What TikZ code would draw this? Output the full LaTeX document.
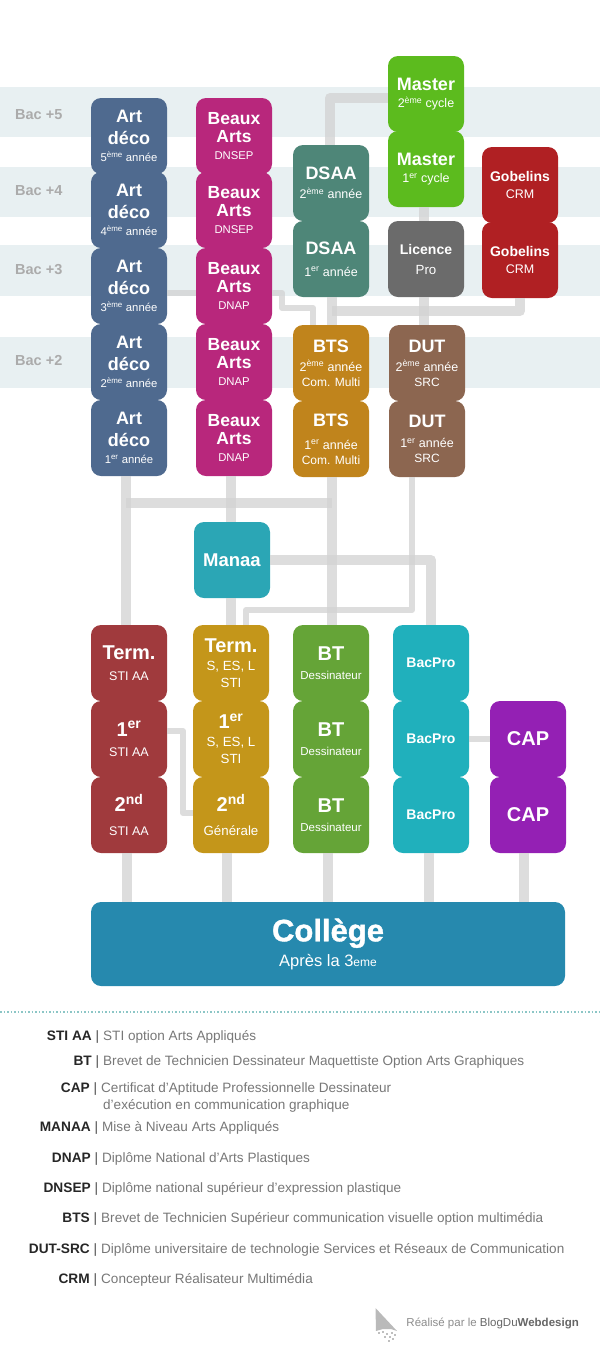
\documentclass[tikz,border=0pt]{standalone}
\usepackage{fontspec}
\setmainfont{Liberation Sans}
\newfontfamily\lourd{Liberation Sans}[UprightFont=* Bold,FakeBold=1.2]
\usepackage{xcolor}
\usetikzlibrary{calc,positioning}
\definecolor{band}{HTML}{E8F0F2}
\definecolor{linkgray}{HTML}{D2D2D2}
\definecolor{bacgray}{HTML}{ABABAB}
\definecolor{legendgray}{HTML}{777777}
\definecolor{dotteal}{HTML}{8CC6C6}
\definecolor{decoblue}{HTML}{4F6A8F}
\definecolor{artsmag}{HTML}{B8277C}
\definecolor{dsaateal}{HTML}{4E8678}
\definecolor{mastergreen}{HTML}{5CBB1E}
\definecolor{gobred}{HTML}{B02023}
\definecolor{licgray}{HTML}{6B6B6B}
\definecolor{btsgold}{HTML}{C0841C}
\definecolor{dutbrown}{HTML}{8C6650}
\definecolor{manaateal}{HTML}{2BA6B5}
\definecolor{stired}{HTML}{A03A3D}
\definecolor{termgold}{HTML}{C4961A}
\definecolor{btgreen}{HTML}{65A437}
\definecolor{procyan}{HTML}{20B0BC}
\definecolor{cappurple}{HTML}{9420B4}
\definecolor{collblue}{HTML}{2689AE}
\tikzset{
  etape/.style={minimum width=76pt,minimum height=76pt,inner sep=0pt,rounded corners=10pt,text=white,align=center,font=\fontsize{12.5}{14}\selectfont},
  biglink/.style={draw=linkgray,line width=10pt,opacity=.75,line join=round},
  thinlink/.style={draw=linkgray,line width=6pt,opacity=.75,line join=round},
  baclabel/.style={anchor=west,inner sep=0pt,text=bacgray,font=\fontsize{14.5}{15}\selectfont\bfseries},
  legkey/.style={anchor=base east,inner sep=0pt,text=black!85,font=\fontsize{13.7}{16}\selectfont\bfseries},
  legdesc/.style={anchor=base west,inner sep=0pt,text=legendgray,font=\fontsize{13.55}{16}\selectfont},
}
\newcommand{\gros}[1]{{\fontsize{18}{20}\selectfont\bfseries #1}}
\newcommand{\tgros}[1]{{\fontsize{20}{20}\selectfont\bfseries #1}}
\newcommand{\moyen}[1]{{\fontsize{17.5}{18}\selectfont\bfseries #1}}
\newcommand{\petit}[1]{{\fontsize{14}{15}\selectfont\bfseries #1}}
\newcommand{\mince}[1]{{\fontsize{11.3}{14}\selectfont #1}}
\newcommand{\fin}[1]{{\fontsize{13.3}{14}\selectfont #1}}
\begin{document}
\begin{tikzpicture}[x=1pt,y=-1pt]
  \useasboundingbox (0,0) rectangle (600,1350);
  % bands
  \foreach \y/\h in {87/137,167/217,245/296,337/388}{\fill[band] (0,\y) rectangle (600,\h);}
  \node[baclabel] (bac5) at (15,114.5) {Bac +5};
  \node[baclabel] (bac4) at (15,190.5) {Bac +4};
  \node[baclabel] (bac3) at (15,269.5) {Bac +3};
  \node[baclabel] (bac2) at (15,360.5) {Bac +2};

  % art deco
  \foreach \n/\y/\t in {5/136/5\textsuperscript{ème},4/210/4\textsuperscript{ème},3/286/3\textsuperscript{ème},2/362/2\textsuperscript{ème},1/438/1\textsuperscript{er}}{
    \node[etape,fill=decoblue] (deco\n) at (129,\y) {\gros{Art}\\[8pt]\gros{déco}\\[3pt]\mince{\t\ année}};
  }
  % beaux arts
  \foreach \n/\y/\t in {5/136/DNSEP,4/210/DNSEP,3/286/DNAP,2/362/DNAP,1/438/DNAP}{
    \node[etape,fill=artsmag] (arts\n) at (234,\y) {\moyen{Beaux}\\[4pt]\moyen{Arts}\\[3pt]\mince{\t}};
  }
  \node[etape,fill=dsaateal] (dsaa2) at (331,183) {\gros{DSAA}\\[5pt]2\textsuperscript{ème} année};
  \node[etape,fill=dsaateal] (dsaa1) at (331,259) {\gros{DSAA}\\[8pt]1\textsuperscript{er} année};
  \node[etape,fill=mastergreen] (master2) at (426,94) {\gros{Master}\\[3pt]2\textsuperscript{ème} cycle};
  \node[etape,fill=mastergreen] (master1) at (426,169) {\gros{Master}\\[3pt]1\textsuperscript{er} cycle};
  \node[etape,fill=licgray] (licence) at (426,259) {\petit{Licence}\\[6pt]\fin{Pro}};
  \node[etape,fill=gobred] (gob2) at (520,185) {\petit{Gobelins}\\[3pt]CRM};
  \node[etape,fill=gobred] (gob1) at (520,260) {\petit{Gobelins}\\[3pt]CRM};
  \node[etape,fill=btsgold] (bts2) at (331,363) {\gros{BTS}\\[5pt]2\textsuperscript{ème} année\\[1pt]{\fontsize{12}{14}\selectfont Com. Multi}};
  \node[etape,fill=btsgold] (bts1) at (331,439) {\gros{BTS}\\[9pt]1\textsuperscript{er} année\\[1pt]{\fontsize{12}{14}\selectfont Com. Multi}};
  \node[etape,fill=dutbrown] (dut2) at (427,363) {\gros{DUT}\\[5pt]2\textsuperscript{ème} année\\[1pt]{\fontsize{12}{14}\selectfont SRC}};
  \node[etape,fill=dutbrown] (dut1) at (427,439) {\gros{DUT}\\[6pt]1\textsuperscript{er} année\\[1pt]{\fontsize{12}{14}\selectfont SRC}};
  \node[etape,fill=manaateal] (manaa) at (232,560) {{\fontsize{18.5}{20}\selectfont\bfseries Manaa}};

  % lycee
  \node[etape,fill=stired] (sti3) at (129,663) {\tgros{Term.}\\[7pt]STI AA};
  \node[etape,fill=stired] (sti2) at (129,739) {\tgros{1\textsuperscript{er}}\\[6pt]STI AA};
  \node[etape,fill=stired] (sti1) at (129,815) {\tgros{2\textsuperscript{nd}}\\[10pt]STI AA};
  \node[etape,fill=termgold] (gen3) at (231,663) {\tgros{Term.}\\[4pt]\fin{S, ES, L}\\[3pt]\fin{STI}};
  \node[etape,fill=termgold] (gen2) at (231,739) {\tgros{1\textsuperscript{er}}\\[4pt]\fin{S, ES, L}\\[3pt]\fin{STI}};
  \node[etape,fill=termgold] (gen1) at (231,815) {\tgros{2\textsuperscript{nd}}\\[10pt]\fin{Générale}};
  \foreach \n/\y in {3/663,2/739,1/815}{
    \node[etape,fill=btgreen] (bt\n) at (331,\y) {\tgros{BT}\\[5pt]{\fontsize{11.5}{13}\selectfont Dessinateur}};
    \node[etape,fill=procyan] (pro\n) at (431,\y) {\petit{BacPro}};
  }
  \node[etape,fill=cappurple] (cap2) at (528,739) {\tgros{CAP}};
  \node[etape,fill=cappurple] (cap1) at (528,815) {\tgros{CAP}};
  \node[etape,fill=collblue,minimum width=474pt,minimum height=84pt] (college) at (328,944)
    {{\fontsize{31}{26}\lourd\selectfont Collège}\hspace{12pt}\\[5pt]{\fontsize{16.5}{14}\selectfont Après la 3{\fontsize{12}{14}\selectfont eme}}\hspace{26pt}};

  % corners of the links
  \coordinate (hautdsaa) at (330,98);
  \coordinate (fourcheA) at (126,503);
  \coordinate (fourcheB) at (332,503);
  \coordinate (coudearts) at (282,308);
  \coordinate (coudebts) at (313,308);
  \coordinate (coudedut) at (246,610);
  \coordinate (coudesti) at (183,813);

  % links
  \draw[biglink] (master2.west |- hautdsaa) -- (hautdsaa) -- (hautdsaa |- dsaa2.north);
  \draw[biglink] ([xshift=-2pt]master1.south) -- ([xshift=-2pt]licence.north);
  \draw[biglink] ([xshift=-2pt]licence.south) -- ([xshift=-3pt]dut2.north);
  \draw[biglink] ([xshift=1pt]dsaa1.south) -- ([xshift=1pt]bts2.north);
  \draw[biglink] (gob1.south) |- ([xshift=1pt,yshift=-14pt]dsaa1.south);
  \draw[thinlink] ([yshift=-7pt]deco3.east) -- ([yshift=-7pt]arts3.west);
  \draw[thinlink] ([yshift=-7pt]arts3.east) -| (coudearts) -- (coudebts) -- (coudebts |- bts2.north);
  \draw[biglink] ([xshift=-3pt]deco1.south) -- ([xshift=-3pt]sti3.north);
  \draw[biglink] ([xshift=-3pt]arts1.south) -- ([xshift=-1pt]manaa.north);
  \draw[biglink] ([xshift=-1pt]manaa.south) -- (gen3.north);
  \draw[biglink] ([xshift=1pt]bts1.south) -- ([xshift=1pt]bt3.north);
  \draw[biglink] (fourcheA) -- (fourcheB);
  \draw[thinlink] ([xshift=-15pt]dut1.south) |- (coudedut) -- (coudedut |- gen3.north);
  \draw[biglink] (manaa.east) -| (pro3.north);
  \draw[thinlink] ([yshift=8pt]sti2.east) -| (coudesti) -- (coudesti -| gen1.west);
  \draw[thinlink] (pro2.east) -- (cap2.west);
  \draw[biglink] ([xshift=-2pt]sti1.south) -- ([xshift=-201pt]college.north);
  \draw[biglink] ([xshift=-4pt]gen1.south) -- ([xshift=-101pt]college.north);
  \draw[biglink] ([xshift=-3pt]bt1.south) -- (college.north);
  \draw[biglink] ([xshift=-2pt]pro1.south) -- ([xshift=101pt]college.north);
  \draw[biglink] ([xshift=-4pt]cap1.south) -- ([xshift=196pt]college.north);

  % legend
  \draw[dotteal,line width=1.5pt,dotted] (0,1012) -- (600,1012);
  \foreach \k/\x/\y/\t/\d in {
    stiaa/92/1040/STI AA/STI option Arts Appliqués,
    bt/92/1065/BT/Brevet de Technicien Dessinateur Maquettiste Option Arts Graphiques,
    cap/90/1092/CAP/Certificat d'Aptitude Professionnelle Dessinateur,
    manaa/91/1131/MANAA/Mise à Niveau Arts Appliqués,
    dnap/91/1162/DNAP/Diplôme National d'Arts Plastiques,
    dnsep/91/1192/DNSEP/Diplôme national supérieur d'expression plastique,
    bts/90/1222/BTS/Brevet de Technicien Supérieur communication visuelle option multimédia,
    dut/90/1253/DUT-SRC/Diplôme universitaire de technologie Services et Réseaux de Communication,
    crm/90/1283/CRM/Concepteur Réalisateur Multimédia}{
    \node[legkey] (key\k) at (\x,\y) {\t};
    \node[legdesc] (desc\k) at (\x+11,\y) {\d};
    \node[legdesc,anchor=base,text=black!70] (bar\k) at (\x+5.5,\y) {|};
  }
  \node[legdesc] (desccap2) at (103,1109) {d'exécution en communication graphique};

  % credit
  \fill[black!27] (375.5,1308) -- (397,1331) -- (391,1329) -- (383,1329) -- (376,1331) -- cycle;
  \foreach \a/\b in {378/1332,382/1331,386/1333,391/1332,394/1334,384/1336,389/1336,392/1338,388/1340}{\fill[black!25] (\a,\b) rectangle (\a+2,\b+2);}
  \node[anchor=base east,inner sep=0pt,font=\fontsize{11.5}{13}\selectfont] (credit) at (579,1326)
    {\textcolor{black!45}{Réalisé par le }\textcolor{black!60}{BlogDu\textbf{Webdesign}}};
\end{tikzpicture}
\end{document}
